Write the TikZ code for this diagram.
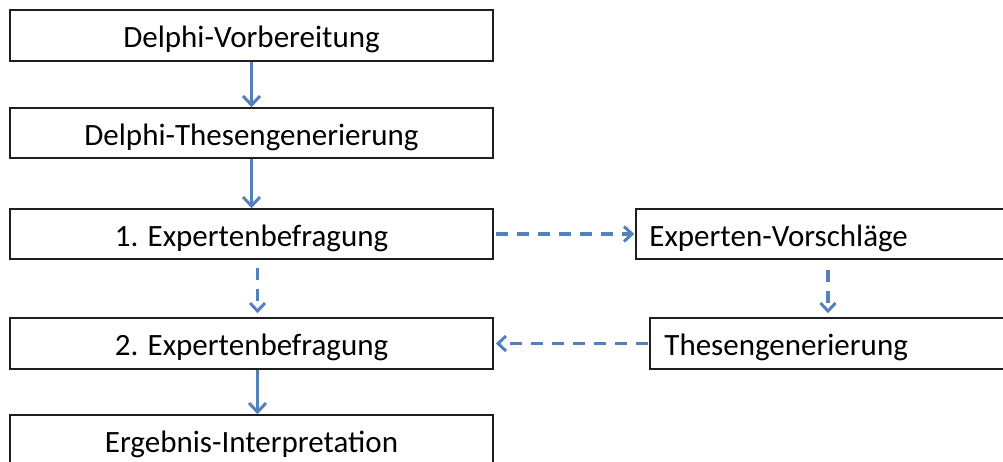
\documentclass[tikz,border=0pt]{standalone}
\usepackage{fontspec}
\setmainfont{Carlito}
\usetikzlibrary{arrows.meta}
\definecolor{arrowblue}{RGB}{84,128,188}
\definecolor{boxline}{RGB}{30,30,30}
\newcommand\boxtext[1]{\raisebox{-4pt}[\height][\depth]{#1}}
\tikzset{
  boxfont/.style={font=\fontsize{31}{36}\selectfont},
  stepbox/.style={draw=boxline, line width=1.6pt, rectangle, inner sep=0pt, boxfont},
  solidarrow/.style={draw=arrowblue, line width=3.2pt, -{Straight Barb[length=9pt,width=17pt,line width=3pt]}},
  dasharrow/.style={draw=arrowblue, line width=3.2pt, dash pattern=on 12pt off 9pt, -{Straight Barb[length=8pt,width=15pt,line width=3pt]}}
}
\begin{document}
\begin{tikzpicture}[x=1pt,y=-1pt]
\useasboundingbox (0,0) rectangle (1003,461);
\node[stepbox, minimum width=483pt, minimum height=51pt] (b1) at (251.5,35.5) {\boxtext{Delphi-Vorbereitung}};
\node[stepbox, minimum width=483pt, minimum height=50pt] (b2) at (251.5,133) {\boxtext{Delphi-Thesengenerierung}};
\node[stepbox, minimum width=483pt, minimum height=50pt] (b3) at (251.5,234) {\boxtext{1. Expertenbefragung}};
\node[stepbox, minimum width=483pt, minimum height=51pt] (b4) at (251.5,343.5) {\boxtext{2. Expertenbefragung}};
\node[stepbox, minimum width=483pt, minimum height=51pt] (b5) at (251.5,440.5) {\boxtext{Ergebnis-Interpretation}};
\node[stepbox, minimum width=384pt, minimum height=50pt] (r1) at (828,234) {};
\node[anchor=west, inner sep=0pt, boxfont] (r1t) at (r1.west) [xshift=14pt] {\boxtext{Experten-Vorschläge}};
\node[stepbox, minimum width=370pt, minimum height=51pt] (r2) at (835,343.5) {};
\node[anchor=west, inner sep=0pt, boxfont] (r2t) at (r2.west) [xshift=15pt] {\boxtext{Thesengenerierung}};
\draw[solidarrow] (b1) -- (b2);
\draw[solidarrow] (b2) -- (b3);
\draw[solidarrow] ([xshift=6pt]b4.south) -- ([xshift=6pt]b5.north);
\draw[dasharrow, shorten <=8pt, shorten >=4pt] ([xshift=6pt]b3.south) -- ([xshift=6pt]b4.north);
\draw[dasharrow, shorten <=10pt, shorten >=4pt] (r1.south) -- (r1.south |- r2.north);
\draw[dasharrow, shorten <=2pt, shorten >=1pt] (b3.east) -- (r1.west);
\draw[dasharrow, shorten <=1pt, shorten >=2pt] (r2.west) -- (b4.east);
\end{tikzpicture}
\end{document}
